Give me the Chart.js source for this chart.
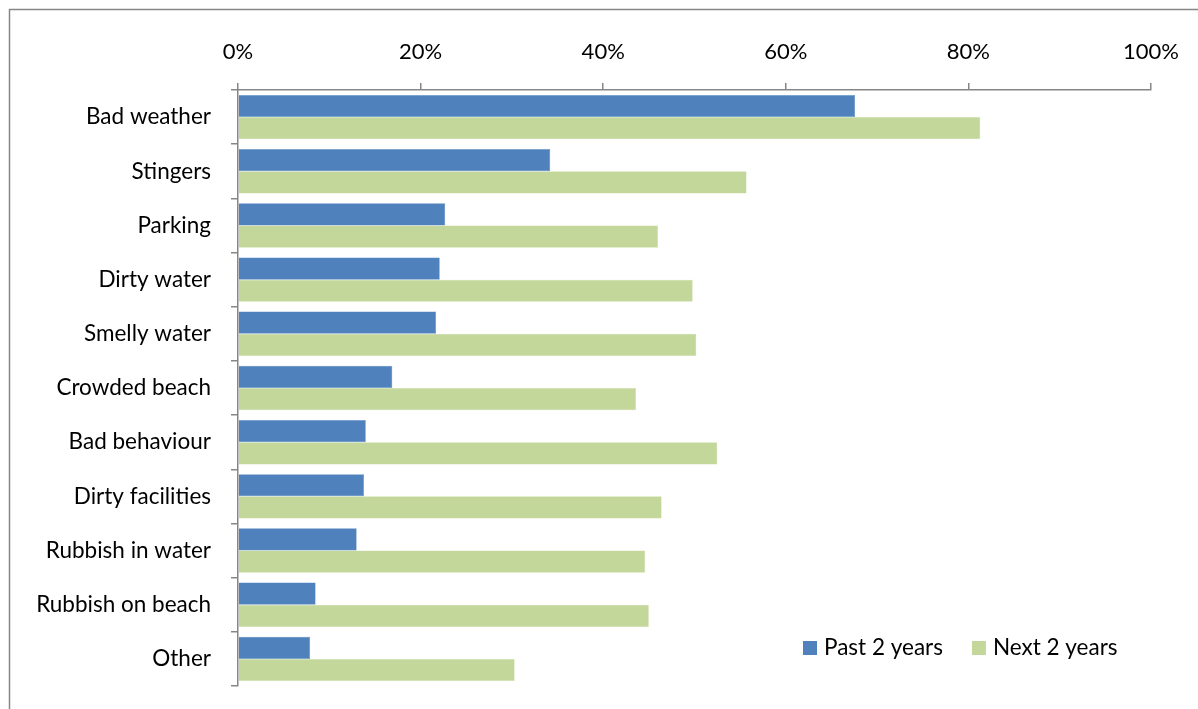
<!DOCTYPE html>
<html>
<head>
<meta charset="utf-8">
<script src="https://cdn.jsdelivr.net/npm/chart.js@4/dist/chart.umd.min.js"></script>
<style>
  html, body { margin: 0; padding: 0; background: #fff; }
  #wrap { width: 1198px; height: 709px; position: relative; }
</style>
</head>
<body>
<div id="wrap"><canvas id="c" width="1198" height="709"></canvas></div>
<script>
const categories = [
  'Bad weather', 'Stingers', 'Parking', 'Dirty water', 'Smelly water',
  'Crowded beach', 'Bad behaviour', 'Dirty facilities', 'Rubbish in water',
  'Rubbish on beach', 'Other'
];
const pastTwoYears = [67.6, 34.2, 22.7, 22.1, 21.7, 16.9, 14.0, 13.8, 13.0, 8.5, 7.9];
const nextTwoYears = [81.3, 55.7, 46.0, 49.8, 50.2, 43.6, 52.5, 46.4, 44.6, 45.0, 30.3];
const xTicks = [0, 20, 40, 60, 80, 100];

const FONT = 'Lato, "Open Sans", sans-serif';
const AXIS_GREY = '#868686';

// Outer frame around the whole chart
const framePlugin = {
  id: 'frame',
  beforeDraw(chart) {
    const ctx = chart.ctx;
    ctx.save();
    ctx.fillStyle = '#ffffff';
    ctx.fillRect(0, 0, chart.width, chart.height);
    ctx.strokeStyle = AXIS_GREY;
    ctx.lineWidth = 1.5;
    ctx.strokeRect(9.5, 9.5, chart.width + 50, chart.height + 50);
    ctx.restore();
  }
};

// Legend drawn inside the plot, lower right
const legendPlugin = {
  id: 'insideLegend',
  afterDraw(chart) {
    const ctx = chart.ctx;
    ctx.save();
    ctx.font = '22.5px ' + FONT;
    ctx.textBaseline = 'middle';
    ctx.textAlign = 'left';
    let x = 803;
    const y = 648;
    chart.data.datasets.forEach((ds) => {
      ctx.fillStyle = ds.backgroundColor;
      ctx.fillRect(x, y - 7, 14, 14);
      ctx.fillStyle = '#000';
      ctx.fillText(ds.label, x + 21, y);
      x += 21 + ctx.measureText(ds.label).width + 29;
    });
    ctx.restore();
  }
};

new Chart(document.getElementById('c'), {
  type: 'bar',
  data: {
    labels: categories,
    datasets: [
      { label: 'Past 2 years', data: pastTwoYears, backgroundColor: '#4F81BD',
        borderColor: '#5B8AC4', borderWidth: 0.5 },
      { label: 'Next 2 years', data: nextTwoYears, backgroundColor: '#C4D79B',
        borderColor: '#CBDCA6', borderWidth: 0.5 }
    ]
  },
  options: {
    indexAxis: 'y',
    responsive: false,
    animation: false,
    devicePixelRatio: 1,
    layout: { padding: { left: 0, right: 47, top: 0, bottom: 23 } },
    datasets: { bar: { categoryPercentage: 0.82, barPercentage: 1.0 } },
    plugins: {
      legend: { display: false },
      tooltip: { enabled: false }
    },
    scales: {
      x: {
        position: 'top',
        min: 0,
        max: 100,
        afterBuildTicks(scale) { scale.ticks = xTicks.map(v => ({ value: v })); },
        afterFit(scale) { scale.height = 90; },
        ticks: {
          callback: v => v + '%',
          color: '#000',
          font: { family: FONT, size: 22 },
          padding: 18,
          maxRotation: 0
        },
        grid: {
          drawOnChartArea: false,
          drawTicks: true,
          tickLength: 7,
          color: AXIS_GREY,
          lineWidth: 1.5
        },
        border: { display: true, color: AXIS_GREY, width: 1.5 }
      },
      y: {
        afterFit(scale) {
          scale.width = 238;
          scale.paddingTop = 0;
          scale.paddingBottom = 0;
        },
        ticks: {
          color: '#000',
          font: { family: FONT, size: 22.5 },
          padding: 20
        },
        grid: {
          offset: true,
          drawOnChartArea: false,
          drawTicks: true,
          tickLength: 7,
          color: AXIS_GREY,
          lineWidth: 1.5
        },
        border: { display: true, color: AXIS_GREY, width: 1.5 }
      }
    }
  },
  plugins: [framePlugin, legendPlugin]
});
</script>
</body>
</html>
